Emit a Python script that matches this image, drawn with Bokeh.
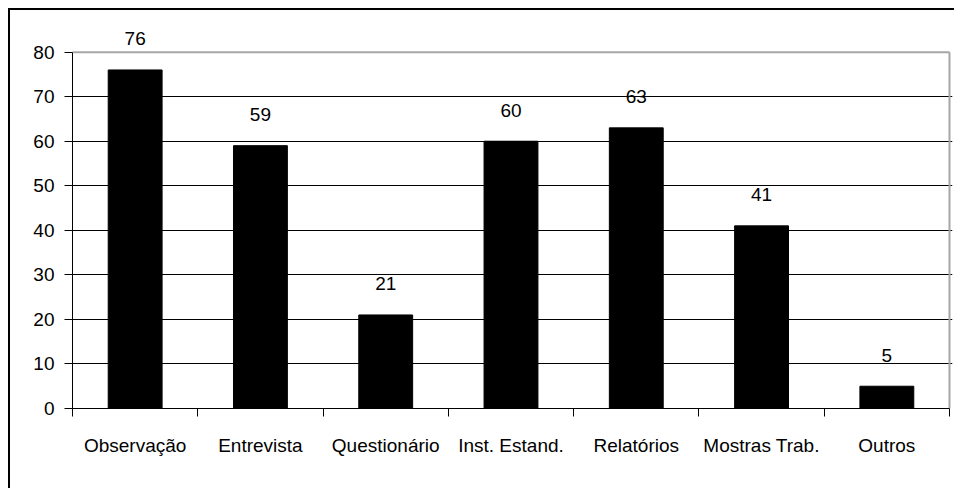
from bokeh.plotting import figure
from bokeh.models import FixedTicker, ColumnDataSource, Range1d
from bokeh.embed import file_html
from bokeh.resources import INLINE
from bokeh.core.properties import value

categories = ["Observação", "Entrevista", "Questionário", "Inst. Estand.",
              "Relatórios", "Mostras Trab.", "Outros"]
values = [76, 59, 21, 60, 63, 41, 5]
y_ticks = [0, 10, 20, 30, 40, 50, 60, 70, 80]

n = len(categories)
ymax = y_ticks[-1]
xs = [i + 0.5 for i in range(n)]
src = ColumnDataSource(dict(x=xs, top=values, label=[str(v) for v in values]))

FONT = "Liberation Sans"

p = figure(width=944, height=478, output_backend="svg", toolbar_location=None,
           x_range=Range1d(0, n + 0.024), y_range=Range1d(0, ymax + 8),
           min_border_left=62, min_border_right=2, min_border_top=6,
           min_border_bottom=80)
p.frame_width = 880
p.frame_height = 392
p.styles = {"border-left": "2px solid black", "border-top": "2px solid black",
            "margin-left": "8px", "margin-top": "8px"}

# black gridlines (below 80), gray plot-area border at top and right
p.ygrid.ticker = FixedTicker(ticks=y_ticks[1:-1])
p.ygrid.grid_line_color = "black"
p.ygrid.grid_line_width = 1
p.xgrid.visible = False
p.segment(x0=[0, n], y0=[ymax, 0], x1=[n, n], y1=[ymax, ymax],
          line_color="#a6a6a6", line_width=2)

p.vbar(x="x", top="top", width=0.43, bottom=0, source=src,
       fill_color="black", line_color="black")
p.text(x="x", y="top", text="label", source=src, text_align="center",
       text_baseline="alphabetic", y_offset=-31,
       text_font=value(FONT), text_font_size="19px", text_color="black")

p.outline_line_color = None
p.background_fill_color = "white"
p.border_fill_color = "white"

ya = p.yaxis[0]
ya.ticker = FixedTicker(ticks=y_ticks)
ya.bounds = (0, ymax)
ya.axis_line_color = "black"
ya.major_tick_line_color = "black"
ya.major_tick_out = 8
ya.major_tick_in = 0
ya.minor_tick_line_color = None
ya.major_label_standoff = 10
ya.major_label_text_font = FONT
ya.major_label_text_font_size = "19px"
ya.major_label_text_color = "black"

xa = p.xaxis[0]
xa.ticker = FixedTicker(ticks=xs, minor_ticks=list(range(n + 1)))
xa.bounds = (0, n)
xa.major_label_overrides = {x: c for x, c in zip(xs, categories)}
xa.axis_line_color = "black"
xa.major_tick_out = 0
xa.major_tick_in = 0
xa.major_tick_line_color = None
xa.minor_tick_line_color = "black"
xa.minor_tick_out = 8
xa.minor_tick_in = 0
xa.major_label_standoff = 18
xa.major_label_text_font = FONT
xa.major_label_text_font_size = "19px"
xa.major_label_text_color = "black"

open("out.html", "w").write(file_html(p, INLINE))
